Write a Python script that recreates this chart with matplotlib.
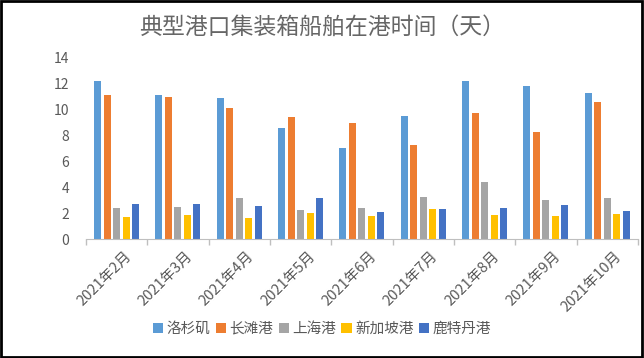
import numpy as np
import matplotlib
matplotlib.use("Agg")
import matplotlib.pyplot as plt
from matplotlib.patches import Rectangle

plt.rcParams['font.family'] = ['Noto Sans CJK SC', 'DejaVu Sans']

months = ["2021年2月", "2021年3月", "2021年4月", "2021年5月", "2021年6月",
          "2021年7月", "2021年8月", "2021年9月", "2021年10月"]
ports = ["洛杉矶", "长滩港", "上海港", "新加坡港", "鹿特丹港"]

los_angeles = [12.2, 11.1, 10.9, 8.6, 7.0, 9.5, 12.2, 11.8, 11.3]
long_beach = [11.1, 11.0, 10.1, 9.4, 9.0, 7.3, 9.7, 8.3, 10.6]
shanghai = [2.4, 2.5, 3.2, 2.25, 2.4, 3.25, 4.4, 3.0, 3.2]
singapore = [1.7, 1.85, 1.65, 2.0, 1.8, 2.3, 1.85, 1.8, 1.95]
rotterdam = [2.7, 2.7, 2.55, 3.2, 2.1, 2.35, 2.4, 2.65, 2.2]

series = [los_angeles, long_beach, shanghai, singapore, rotterdam]
colors = ["#5B9BD5", "#ED7D31", "#A5A5A5", "#FFC000", "#4472C4"]

fig = plt.figure(figsize=(6.44, 3.58), dpi=100)
ax = fig.add_axes([0.1335, 0.3324, 0.857, 0.506])

x = np.arange(len(months))
bar_w = 0.115
step = 0.155
for i, (vals, c) in enumerate(zip(series, colors)):
    ax.bar(x + (i - 2) * step, vals, width=bar_w, color=c, label=ports[i])

ax.set_xlim(-0.5, len(months) - 0.5)
ax.set_ylim(0, 14)
ax.set_yticks(range(0, 15, 2))
ax.tick_params(axis='y', length=0, labelsize=10, labelcolor='#595959', pad=12)

# category separators as ticks
ax.set_xticks(np.arange(-0.5, len(months), 1.0))
ax.set_xticklabels([])
ax.tick_params(axis='x', length=4, color='#BFBFBF', width=1)
for xi, lab in zip(x, months):
    ax.text(xi + 0.12, -0.8, lab, rotation=45, ha='right', va='top',
            rotation_mode='anchor', fontsize=10.5, color='#595959')

for s in ['top', 'right', 'left']:
    ax.spines[s].set_visible(False)
ax.spines['bottom'].set_color('#BFBFBF')

fig.suptitle("典型港口集装箱船舶在港时间（天）", y=0.955, fontsize=16.5,
             color='#666666')

fig.legend(loc='lower center', bbox_to_anchor=(0.5, 0.025), ncol=5,
           frameon=False, fontsize=10.5, handlelength=0.7, handleheight=0.7,
           handletextpad=0.25, columnspacing=0.35, labelcolor='#595959')

fig.patches.append(Rectangle((0.002, 0.003), 0.995, 0.993, transform=fig.transFigure,
                             fill=False, edgecolor='black', linewidth=2))

fig.savefig("out.png", dpi=100)
